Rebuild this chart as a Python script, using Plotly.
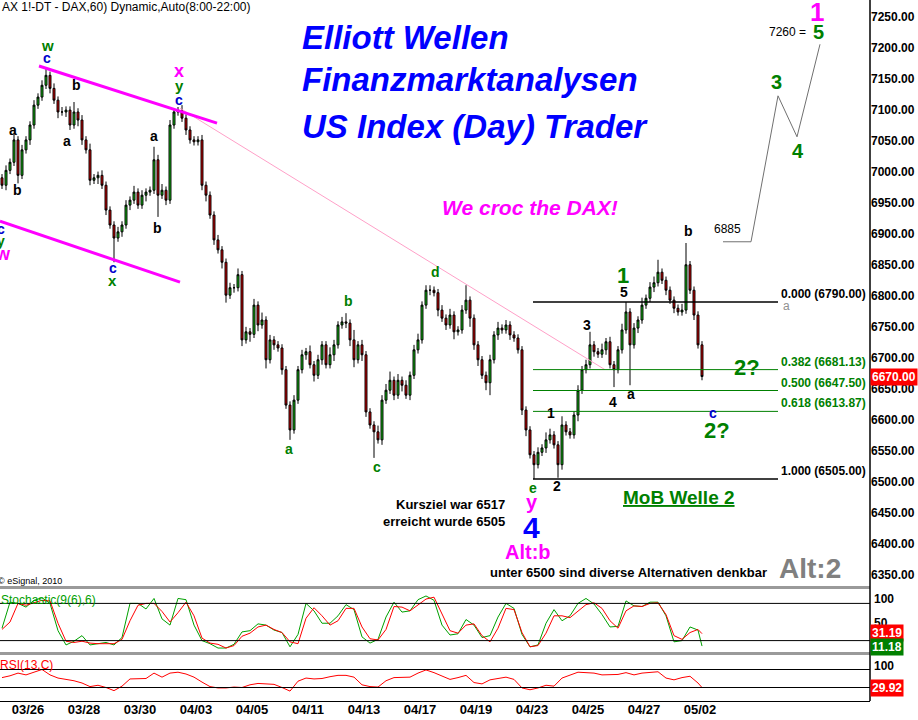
import plotly.graph_objects as go

# ---------------- DATA ----------------
# 2-hour candles (7 per trading day), closes
closes = [
    6978, 7002, 7015, 7051, 6994, 7035, 7051,
    7075, 7107, 7120, 7139, 7155, 7134, 7115,
    7096, 7096, 7099, 7075, 7096, 7083, 7051,
    7035, 6986, 6990, 6994, 6978, 6938, 6914,
    6893, 6903, 6914, 6946, 6954, 6967, 6946,
    6962, 6967, 6970, 7019, 6962, 6970, 6954,
    7075, 7096, 7099, 7086, 7067, 7051, 7048,
    7051, 6978, 6962, 6930, 6890, 6874, 6854,
    6801, 6813, 6813, 6834, 6729, 6742, 6738,
    6785, 6753, 6761, 6697, 6729, 6721, 6716,
    6681, 6624, 6584, 6632, 6681, 6705, 6710,
    6689, 6672, 6697, 6721, 6689, 6705, 6721,
    6753, 6758, 6756, 6729, 6697, 6721, 6705,
    6613, 6592, 6581, 6568, 6632, 6648, 6664,
    6640, 6664, 6656, 6640, 6672, 6713, 6729,
    6785, 6809, 6809, 6805, 6777, 6764, 6753,
    6769, 6742, 6745, 6777, 6793, 6764, 6721,
    6697, 6672, 6660, 6697, 6737, 6748, 6745,
    6753, 6737, 6732, 6713, 6616, 6584, 6544,
    6528, 6548, 6555, 6568, 6576, 6560, 6528,
    6592, 6581, 6576, 6608, 6648, 6681, 6689,
    6721, 6710, 6706, 6713, 6726, 6689, 6681,
    6713, 6745, 6774, 6721, 6748, 6761, 6785,
    6796, 6814, 6821, 6838, 6825, 6809, 6793,
    6780, 6774, 6777, 6850, 6809, 6769, 6721,
    6670,
]
first_open = 6990
upper_wick = [
    6, 8, 6, 10, 6, 8, 6,
    6, 8, 6, 8, 13, 6, 8,
    6, 8, 6, 6, 16, 6, 8,
    6, 10, 6, 6, 8, 6, 6,
    6, 8, 6, 8, 6, 10, 6,
    8, 6, 6, 21, 8, 10, 6,
    8, 6, 5, 8, 6, 6, 6,
    6, 8, 6, 6, 6, 8, 6,
    6, 8, 6, 10, 6, 8, 6,
    10, 6, 12, 6, 8, 6, 6,
    6, 6, 6, 8, 6, 8, 6,
    10, 6, 8, 6, 6, 12, 8,
    6, 8, 14, 6, 16, 6, 8,
    6, 6, 6, 10, 8, 10, 14,
    6, 10, 6, 8, 6, 8, 10,
    6, 8, 8, 6, 6, 8, 6,
    10, 6, 6, 8, 24, 6, 6,
    6, 6, 6, 8, 6, 10, 6,
    8, 6, 6, 6, 6, 6, 6,
    6, 8, 6, 12, 10, 6, 6,
    14, 6, 6, 6, 8, 6, 8,
    21, 6, 6, 10, 6, 8, 6,
    6, 10, 16, 6, 8, 6, 12,
    6, 8, 10, 20, 6, 6, 6,
    6, 6, 10, 35, 6, 6, 6,
    6,
]
lower_wick = [
    6, 8, 6, 6, 13, 6, 6,
    8, 6, 6, 6, 6, 8, 6,
    10, 6, 8, 8, 6, 10, 8,
    6, 8, 6, 10, 6, 8, 6,
    39, 6, 8, 6, 8, 6, 6,
    6, 10, 6, 6, 35, 6, 8,
    6, 6, 6, 6, 8, 6, 6,
    6, 8, 10, 6, 8, 6, 10,
    12, 6, 8, 6, 10, 6, 12,
    6, 10, 6, 14, 6, 8, 6,
    8, 6, 16, 6, 6, 6, 8,
    6, 10, 6, 8, 6, 6, 10,
    6, 6, 8, 10, 12, 6, 10,
    8, 6, 42, 6, 8, 6, 6,
    8, 6, 10, 6, 8, 6, 6,
    6, 6, 8, 6, 10, 6, 8,
    6, 12, 6, 6, 6, 14, 8,
    10, 6, 12, 20, 6, 8, 6,
    6, 8, 6, 6, 8, 10, 6,
    23, 6, 6, 8, 6, 6, 21,
    8, 6, 6, 6, 10, 6, 6,
    6, 8, 6, 6, 8, 6, 28,
    6, 6, 6, 65, 6, 8, 6,
    6, 6, 8, 6, 6, 8, 6,
    8, 6, 6, 6, 6, 8, 6,
    6,
]

# indicators sampled every 2nd candle (+ last candle)
stoch_k = [40, 82, 80, 74, 85, 89, 80, 36, 13, 19, 28, 13, 15, 17, 13, 25, 80, 80, 71, 88,
           55, 45, 88, 86, 45, 20, 15, 8, 8, 14, 34, 36, 47, 45, 37, 33, 10, 30, 80, 68,
           48, 48, 60, 78, 70, 26, 16, 22, 58, 82, 66, 68, 86, 92, 85, 45, 29, 31, 54, 45,
           25, 28, 58, 80, 72, 30, 10, 13, 48, 70, 52, 60, 80, 88, 79, 62, 42, 43, 84, 76,
           75, 82, 82, 60, 18, 20, 42, 37, 11.18]
stoch_d = [38, 50, 80, 77, 81, 85, 84, 48, 19, 17, 19, 16, 15, 15, 15, 22, 52, 77, 80, 80,
           67, 50, 65, 82, 60, 24, 16, 14, 8, 12, 27, 32, 42, 45, 38, 33, 18, 15, 56, 73,
           60, 45, 52, 72, 72, 42, 23, 21, 38, 75, 74, 68, 77, 87, 90, 62, 36, 32, 45, 47,
           28, 18, 40, 72, 70, 33, 10, 12, 32, 60, 60, 57, 68, 78, 81, 72, 52, 40, 68, 76,
           75, 80, 81, 62, 28, 22, 33, 38, 31.19]
rsi = [52, 56, 62, 58, 64, 70, 58, 51, 48, 45, 40, 32, 35, 30, 23, 33, 49, 50, 50, 62,
       53, 62, 64, 60, 53, 42, 32, 29, 29, 31, 30, 36, 39, 38, 37, 30, 22, 44, 51, 49,
       50, 54, 57, 57, 53, 36, 32, 31, 45, 52, 53, 53, 62, 69, 63, 56, 48, 52, 57, 41,
       38, 47, 50, 53, 48, 29, 25, 29, 35, 33, 51, 57, 64, 63, 62, 58, 58, 59, 63, 58,
       62, 64, 65, 51, 47, 52, 55, 40, 29.92]

# x-axis labels: trading day index -> label
tick_days = [1, 3, 5, 7, 9, 11, 13, 15, 17, 19, 21, 23, 25]
tick_labels = ["03/26", "03/28", "03/30", "04/03", "04/05", "04/11", "04/13",
               "04/17", "04/19", "04/23", "04/25", "04/27", "05/02"]
bars_per_day = 7

# Fibonacci retracement of the 6505 -> 6790 move
fib_high, fib_low = 6790.0, 6505.0
fib_ratios = [0.0, 0.382, 0.5, 0.618, 1.0]
fib_start_bar, fib_end_bar = 133, 194

# analyst trend lines (bar index, price)
chan_upper_x, chan_upper_y = [9.25, 53.75], [7170, 7078]
chan_lower_x, chan_lower_y = [-0.5, 44.5], [6920, 6822]
pink_x, pink_y = [44.5, 150.75], [7102, 6681]
proj_x, proj_y = [180.25, 187.25, 194, 198.75, 204.5], [6887, 6887, 7122, 7056, 7205]

# ---------------- BUILD ----------------
FONT = "Liberation Sans, Arial, sans-serif"
PW, PH = 870.0, 701.0
GREEN_T = "#008000"
BLUE = "#0000FF"
CBLUE = "#0000CC"
MAG = "#FF00FF"

n = len(closes)
bars = list(range(n))
opens = [first_open] + closes[:-1]
highs = [max(o, c) + w for o, c, w in zip(opens, closes, upper_wick)]
lows = [min(o, c) - w for o, c, w in zip(opens, closes, lower_wick)]
ind_x = list(range(0, n - 1, 2)) + [n - 1]

fig = go.Figure()
# trend lines (behind candles)
fig.add_trace(go.Scatter(x=pink_x, y=pink_y, mode="lines", line=dict(color="#FFA0C8", width=1),
                         hoverinfo="skip", xaxis="x", yaxis="y"))
fig.add_trace(go.Candlestick(
    x=bars, open=opens, high=highs, low=lows, close=closes,
    increasing=dict(fillcolor="#12C812", line=dict(color="black", width=1)),
    decreasing=dict(fillcolor="#E00000", line=dict(color="black", width=1)),
    whiskerwidth=0, hoverinfo="skip", xaxis="x", yaxis="y"))
fig.add_trace(go.Scatter(x=chan_upper_x, y=chan_upper_y, mode="lines", line=dict(color=MAG, width=3),
                         hoverinfo="skip", xaxis="x", yaxis="y"))
fig.add_trace(go.Scatter(x=chan_lower_x, y=chan_lower_y, mode="lines", line=dict(color=MAG, width=3),
                         hoverinfo="skip", xaxis="x", yaxis="y"))
fig.add_trace(go.Scatter(x=proj_x, y=proj_y, mode="lines", line=dict(color="#707070", width=1),
                         hoverinfo="skip", xaxis="x", yaxis="y"))

fib_levels = [fib_high - r * (fib_high - fib_low) for r in fib_ratios]
fib_colors = ["black" if r in (0.0, 1.0) else GREEN_T for r in fib_ratios]
for lvl, col in zip(fib_levels, fib_colors):
    fig.add_trace(go.Scatter(x=[fib_start_bar - 0.25, fib_end_bar], y=[lvl, lvl], mode="lines",
                             line=dict(color=col, width=1.3 if col == "black" else 1),
                             hoverinfo="skip", xaxis="x", yaxis="y"))

fig.add_trace(go.Scatter(x=ind_x, y=stoch_k, mode="lines", line=dict(color="#00A000", width=1),
                         hoverinfo="skip", xaxis="x2", yaxis="y2"))
fig.add_trace(go.Scatter(x=ind_x, y=stoch_d, mode="lines", line=dict(color="#FF0000", width=1),
                         hoverinfo="skip", xaxis="x2", yaxis="y2"))
fig.add_trace(go.Scatter(x=ind_x, y=rsi, mode="lines", line=dict(color="#FF0000", width=1),
                         hoverinfo="skip", xaxis="x3", yaxis="y3"))

ann = []


def lab(text, x, y, color, size=14, bold=True, italic=False, anchor="center"):
    t = text
    if italic:
        t = "<i>" + t + "</i>"
    if bold:
        t = "<b>" + t + "</b>"
    ann.append(dict(text=t, x=x / PW, y=1 - y / PH, xref="paper", yref="paper",
                    xanchor=anchor, yanchor="middle", showarrow=False,
                    font=dict(family=FONT, size=size, color=color)))


lab("AX 1!-DT - DAX,60) Dynamic,Auto(8:00-22:00)", 0, 7, "black", 12, bold=False, anchor="left")
lab("Elliott Wellen", 300, 38, BLUE, 33, italic=True, anchor="left")
lab("Finanzmarktanalysen", 300, 80, BLUE, 33, italic=True, anchor="left")
lab("US Index (Day) Trader", 300, 126, BLUE, 33, italic=True, anchor="left")
lab("We croc the DAX!", 440, 207, MAG, 21, italic=True, anchor="left")

for t, x, y in [("a", 13, 130), ("b", 17, 190), ("a", 67, 141), ("b", 76, 85),
                ("a", 154, 136), ("b", 157, 228)]:
    lab(t, x, y, "black", 14)
for x, y in [(47, 58), (179, 100), (113, 268), (713, 413), (1, 229)]:
    lab("c", x, y, CBLUE, 14)
lab("w", 47, 46, GREEN_T, 15)
lab("y", 179, 85, GREEN_T, 15)
lab("x", 113, 281, GREEN_T, 15)
lab("y", 1, 241, GREEN_T, 14)
lab("x", 179, 71, MAG, 18)
lab("w", 3, 254, MAG, 18)
for t, x, y in [("a", 289, 449), ("b", 348, 301), ("c", 377, 467), ("d", 436, 272), ("e", 533, 488)]:
    lab(t, x, y, GREEN_T, 14)
lab("y", 532, 502, MAG, 20)
lab("4", 531, 527, BLUE, 30)
lab("Alt:b", 528, 552, MAG, 20)
for t, x, y in [("1", 551, 413), ("2", 557, 486), ("3", 587, 325), ("4", 613, 402),
                ("5", 624, 292), ("a", 631, 394), ("b", 688, 231)]:
    lab(t, x, y, "black", 14)
lab("1", 623, 276, GREEN_T, 22)
lab("2?", 717, 430, GREEN_T, 22)
lab("2?", 747, 367, GREEN_T, 22)
lab("a", 786, 306, "#909090", 12, bold=False)
lab("6885", 727, 229, "black", 12, bold=False)
lab("7260 =", 787, 32, "black", 12, bold=False)
lab("3", 776, 82, GREEN_T, 20)
lab("4", 798, 151, GREEN_T, 20)
lab("5", 818, 32, GREEN_T, 20)
lab("1", 817, 12, MAG, 26)
lab("Kursziel war 6517", 507, 504, "black", 13, anchor="right")
lab("erreicht wurde 6505", 507, 521, "black", 13, anchor="right")
lab("unter 6500 sind diverse Alternativen denkbar", 488, 572, "black", 13, anchor="left")
lab("Alt:2", 777, 568, "#808080", 28, anchor="left")
lab("<u>MoB Welle 2</u>", 621, 497, GREEN_T, 19, anchor="left")
lab("© eSignal, 2010", -4, 581, "black", 9, bold=False, anchor="left")
lab("Stochastic(9(6),6)", -1, 600, "#00A000", 12, bold=False, anchor="left")
lab("RSI(13,C)", -2, 665, "#FF0000", 12, bold=False, anchor="left")

# right-side labels of indicator panels
lab("100", 872, 599, "black", 12, anchor="left")
lab("50", 872, 623, "black", 12, anchor="left")
lab("100", 872, 666, "black", 12, anchor="left")

# fib labels
for r, lvl, col in zip(fib_ratios, fib_levels, fib_colors):
    ann.append(dict(text="<b>%.3f (%.2f)</b>" % (r, lvl), x=fib_end_bar + 0.25, y=lvl, xref="x", yref="y",
                    xanchor="left", yanchor="middle", yshift=8, showarrow=False,
                    font=dict(family=FONT, size=12, color=col)))

# last value markers
def marker(text, yval, yref, bg):
    ann.append(dict(text="<b>" + text + "</b>", x=1.0, y=yval, xref="paper", yref=yref,
                    xanchor="left", yanchor="middle", xshift=0, showarrow=False, bgcolor=bg,
                    borderpad=1, font=dict(family=FONT, size=12, color="white")))


marker("%.2f" % closes[-1], closes[-1], "y", "#FF0000")
marker("%.2f" % stoch_d[-1], stoch_d[-1] + 1, "y2", "#FF0000")
marker("%.2f" % stoch_k[-1], stoch_k[-1] - 1, "y2", "#008000")
marker("%.2f" % rsi[-1], rsi[-1], "y3", "#FF0000")

shapes = []
for yv in (80, 20):
    shapes.append(dict(type="line", xref="paper", yref="y2", x0=0, x1=1, y0=yv, y1=yv,
                       line=dict(color="black", width=1)))
for yv in (70, 30):
    shapes.append(dict(type="line", xref="paper", yref="y3", x0=0, x1=1, y0=yv, y1=yv,
                       line=dict(color="black", width=1)))
for y0 in (586, 652):
    shapes.append(dict(type="rect", xref="paper", yref="paper", x0=0, x1=1,
                       y0=1 - (y0 + 3) / PH, y1=1 - y0 / PH, fillcolor="#9A9A9A", line=dict(width=0)))
shapes.append(dict(type="line", xref="paper", yref="paper", x0=1, x1=1, y0=0, y1=1,
                   line=dict(color="black", width=1.5)))

ax_common = dict(showgrid=False, zeroline=False, range=[-0.5, 217], fixedrange=True)
tickvals_price = list(range(6350, 7251, 50))

fig.update_layout(
    width=918, height=720, margin=dict(l=0, r=48, t=0, b=19),
    paper_bgcolor="white", plot_bgcolor="white", showlegend=False, hovermode=False,
    font=dict(family=FONT),
    xaxis=dict(domain=[0, 1], anchor="y", showticklabels=False, rangeslider=dict(visible=False), **ax_common),
    xaxis2=dict(domain=[0, 1], anchor="y2", showticklabels=False, **ax_common),
    xaxis3=dict(domain=[0, 1], anchor="y3", showline=True, linecolor="black", linewidth=1,
                tickvals=[bars_per_day * d - 0.5 for d in tick_days],
                ticktext=["<b>%s</b>" % t for t in tick_labels], ticks="", ticklabelstandoff=-4,
                tickfont=dict(family=FONT, size=13, color="black"), automargin=False,
                **ax_common),
    yaxis=dict(domain=[1 - 586 / PH, 1], anchor="x", range=[6332.7, 7276.3], side="right",
               tickvals=tickvals_price, ticktext=["<b>%.2f</b>" % v for v in tickvals_price], ticks="",
               showgrid=False, zeroline=False, automargin=False, fixedrange=True,
               tickfont=dict(family=FONT, size=12, color="black")),
    yaxis2=dict(domain=[1 - 653 / PH, 1 - 591 / PH], anchor="x2", range=[0, 100], side="right",
                showticklabels=False, showgrid=False, zeroline=False, fixedrange=True),
    yaxis3=dict(domain=[0, 1 - 656 / PH], anchor="x3", range=[0, 100], side="right",
                showticklabels=False, showgrid=False, zeroline=False, fixedrange=True),
    annotations=ann, shapes=shapes,
)

fig.write_html("out.html", config={"displayModeBar": False},
               post_script="document.body.style.margin='0';document.body.style.overflow='hidden';")
